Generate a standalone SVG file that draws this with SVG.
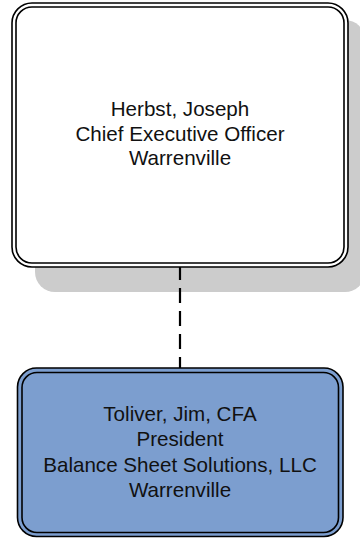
<svg xmlns="http://www.w3.org/2000/svg" width="360" height="538" viewBox="0 0 360 538">
<style>
.o{stroke:#000;stroke-width:1.6}
.i{fill:none;stroke:#000;stroke-width:1.6}
.t{font-family:"Liberation Sans",Arial,sans-serif;font-size:20.6px;fill:#111;text-anchor:middle}
.c{stroke:#000;stroke-width:2.2;stroke-dasharray:15 8;fill:none}
</style>
<rect x="0" y="0" width="360" height="538" fill="#fff"/>
<rect x="35" y="20" width="330" height="272" rx="20" fill="#cccccc"/>
<g id="connectors">
<line class="c" x1="180" y1="265" x2="180" y2="368"/>
</g>
<g id="node-herbst">
<rect class="o" x="12" y="3" width="336" height="264" rx="20" fill="#fff"/>
<rect class="i" x="16" y="7" width="328" height="256" rx="16"/>
<text class="t" x="180" y="116">Herbst, Joseph</text>
<text class="t" x="180" y="140.7">Chief Executive Officer</text>
<text class="t" x="180" y="165.3">Warrenville</text>
</g>
<g id="node-toliver">
<rect class="o" x="17.5" y="368" width="325.5" height="168.5" rx="19" fill="#7c9ecf"/>
<rect class="i" x="22" y="372.5" width="316.5" height="160" rx="15"/>
<text class="t" x="180" y="421">Toliver, Jim, CFA</text>
<text class="t" x="180" y="446">President</text>
<text class="t" x="180" y="471.5">Balance Sheet Solutions, LLC</text>
<text class="t" x="180" y="496.5">Warrenville</text>
</g>
</svg>
